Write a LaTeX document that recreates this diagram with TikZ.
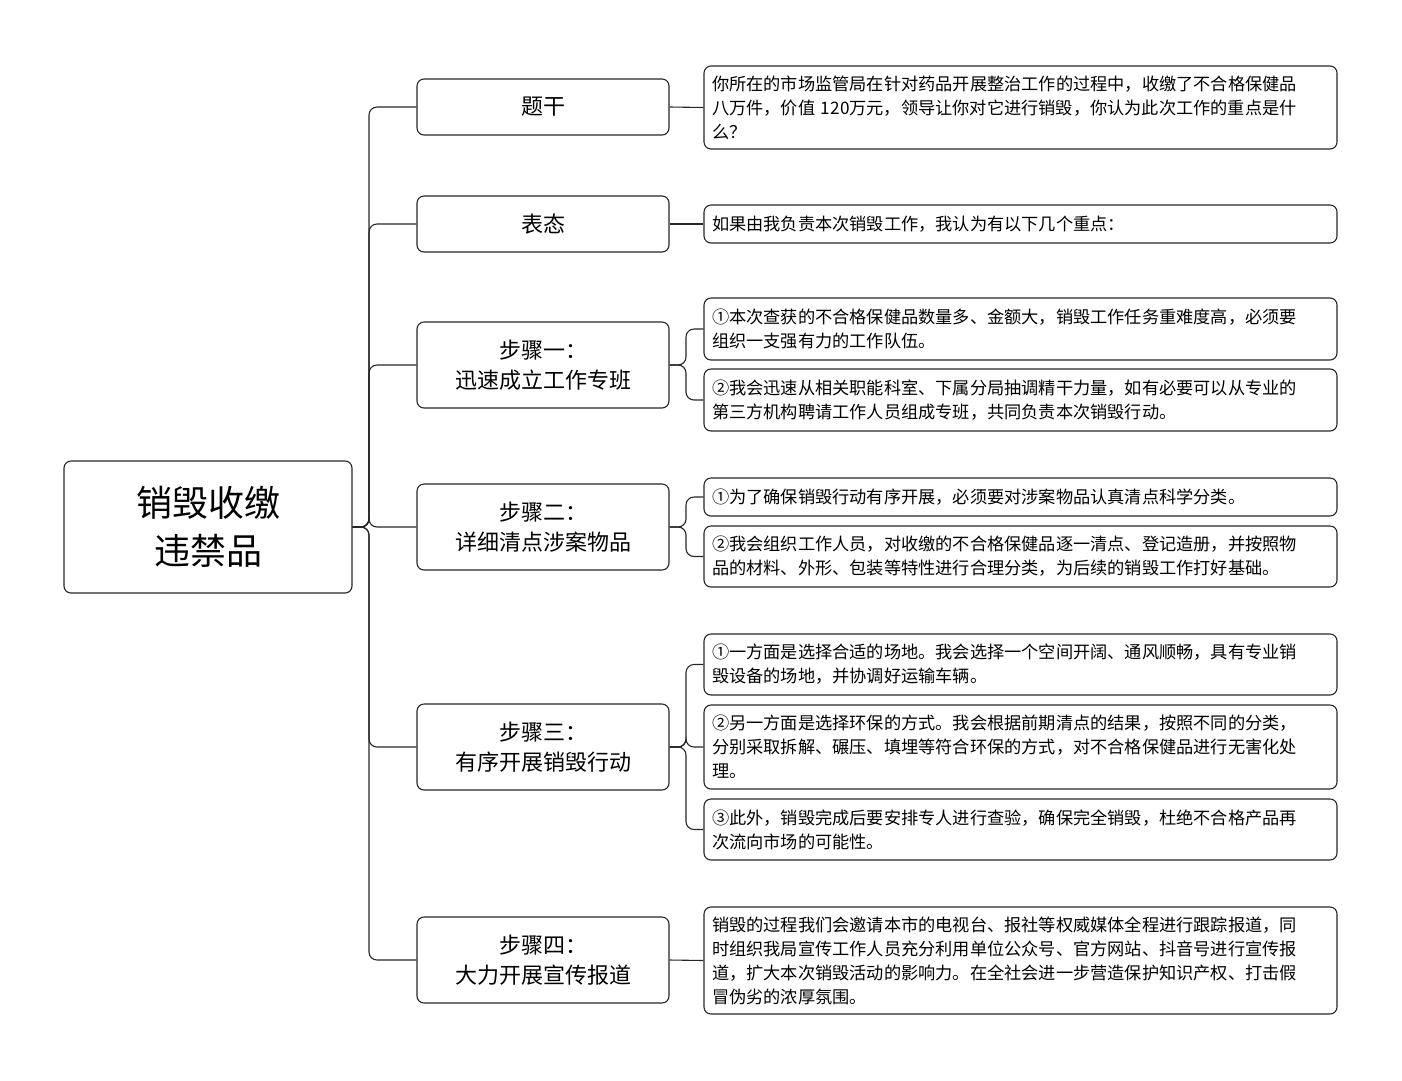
\documentclass[tikz,border=0pt]{standalone}
\usepackage{fontspec}
\setmainfont{Noto Sans CJK SC}
\XeTeXlinebreaklocale "zh"
\XeTeXlinebreakskip=0pt plus 1pt
\begin{document}
\begin{tikzpicture}[x=1pt,y=-1pt,
 box/.style={draw=black!85,line width=1.1pt,rounded corners=7pt},
 lone/.style={box,minimum width=252pt,align=center,font=\fontsize{22}{30}\selectfont},
 leaf/.style={box,minimum width=633pt,text width=617pt,inner xsep=8pt,inner ysep=2pt,align=left,font=\fontsize{17.2}{24}\selectfont},
 conn/.style={draw=black!85,line width=1.1pt,rounded corners=8pt}]
\useasboundingbox (0,0) rectangle (1402,1080);
\node[box,minimum width=288pt,minimum height=132pt,align=center,font=\fontsize{36}{48}\selectfont] (root) at (208,527) {销毁收缴\\违禁品};
\node[lone,minimum height=56pt] (a) at (543,107) {题干};
\node[lone,minimum height=56pt] (b) at (543,224) {表态};
\node[lone,minimum height=86pt] (c) at (543,365) {步骤一：\\迅速成立工作专班};
\node[lone,minimum height=86pt] (d) at (543,527) {步骤二：\\详细清点涉案物品};
\node[lone,minimum height=86pt] (e) at (543,747) {步骤三：\\有序开展销毁行动};
\node[lone,minimum height=86pt] (f) at (543,960) {步骤四：\\大力开展宣传报道};
\foreach \n in {a,b,c,d,e,f}{\draw[conn] (root.east) -- (369,527) |- (\n.west);}
\node[leaf,minimum height=83pt] (a1) at (1020.5,107.5) {你所在的市场监管局在针对药品开展整治工作的过程中，收缴了不合格保健品\\八万件，价值 120万元，领导让你对它进行销毁，你认为此次工作的重点是什\\么？};
\node[leaf,minimum height=38pt] (b1) at (1020.5,224) {如果由我负责本次销毁工作，我认为有以下几个重点：};
\node[leaf,minimum height=62pt] (c1) at (1020.5,329) {①本次查获的不合格保健品数量多、金额大，销毁工作任务重难度高，必须要\\组织一支强有力的工作队伍。};
\node[leaf,minimum height=62pt] (c2) at (1020.5,400) {②我会迅速从相关职能科室、下属分局抽调精干力量，如有必要可以从专业的\\第三方机构聘请工作人员组成专班，共同负责本次销毁行动。};
\node[leaf,minimum height=38pt] (d1) at (1020.5,497) {①为了确保销毁行动有序开展，必须要对涉案物品认真清点科学分类。};
\node[leaf,minimum height=61pt] (d2) at (1020.5,556.5) {②我会组织工作人员，对收缴的不合格保健品逐一清点、登记造册，并按照物\\品的材料、外形、包装等特性进行合理分类，为后续的销毁工作打好基础。};
\node[leaf,minimum height=61pt] (e1) at (1020.5,664.5) {①一方面是选择合适的场地。我会选择一个空间开阔、通风顺畅，具有专业销\\毁设备的场地，并协调好运输车辆。};
\node[leaf,minimum height=84pt] (e2) at (1020.5,747) {②另一方面是选择环保的方式。我会根据前期清点的结果，按照不同的分类，\\分别采取拆解、碾压、填埋等符合环保的方式，对不合格保健品进行无害化处\\理。};
\node[leaf,minimum height=61pt] (e3) at (1020.5,829.5) {③此外，销毁完成后要安排专人进行查验，确保完全销毁，杜绝不合格产品再\\次流向市场的可能性。};
\node[leaf,minimum height=107pt] (f1) at (1020.5,960.5) {销毁的过程我们会邀请本市的电视台、报社等权威媒体全程进行跟踪报道，同\\时组织我局宣传工作人员充分利用单位公众号、官方网站、抖音号进行宣传报\\道，扩大本次销毁活动的影响力。在全社会进一步营造保护知识产权、打击假\\冒伪劣的浓厚氛围。};
\draw[conn] (a.east) -- (a1.west);
\draw[conn] (b.east) -- (b1.west);
\draw[conn] (f.east) -- (f1.west);
\foreach \p/\q in {c/c1,c/c2,d/d1,d/d2,e/e1,e/e2,e/e3}{\draw[conn] (\p.east) -- (686,0 |- \p.east) |- (\q.west);}
\end{tikzpicture}
\end{document}
